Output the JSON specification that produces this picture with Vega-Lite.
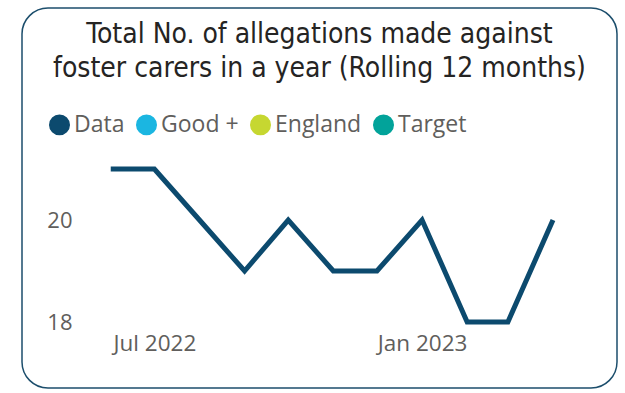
{
  "$schema": "https://vega.github.io/schema/vega-lite/v6.json",
  "autosize": "none",
  "padding": {"left": 22, "top": 8, "right": 8, "bottom": 5},
  "width": 595,
  "height": 380,
  "background": "#ffffff",
  "title": {
    "text": ["Total No. of allegations made against", "foster carers in a year (Rolling 12 months)"],
    "font": "DejaVu Sans Condensed",
    "fontSize": 28,
    "fontWeight": "normal",
    "color": "#252423",
    "anchor": "middle",
    "frame": "group",
    "lineHeight": 34,
    "baseline": "alphabetic",
    "offset": -97
  },
  "data": {
    "values": [
      {"month": "2022-06-01", "value": 21, "series": "Data"},
      {"month": "2022-07-01", "value": 21, "series": "Data"},
      {"month": "2022-08-01", "value": 20, "series": "Data"},
      {"month": "2022-09-01", "value": 19, "series": "Data"},
      {"month": "2022-10-01", "value": 20, "series": "Data"},
      {"month": "2022-11-01", "value": 19, "series": "Data"},
      {"month": "2022-12-01", "value": 19, "series": "Data"},
      {"month": "2023-01-01", "value": 20, "series": "Data"},
      {"month": "2023-02-01", "value": 18, "series": "Data"},
      {"month": "2023-03-01", "value": 18, "series": "Data"},
      {"month": "2023-04-01", "value": 20, "series": "Data"}
    ]
  },
  "mark": {"type": "line", "strokeWidth": 5, "strokeJoin": "miter"},
  "encoding": {
    "x": {
      "field": "month",
      "type": "temporal",
      "scale": {
        "type": "utc",
        "domain": [
          {"year": 2022, "month": 4, "date": 1, "utc": true},
          {"year": 2023, "month": 5, "date": 15, "utc": true}
        ]
      },
      "axis": {
        "title": null,
        "values": [
          {"year": 2022, "month": 7, "date": 1, "utc": true},
          {"year": 2023, "month": 1, "date": 1, "utc": true}
        ],
        "format": "%b %Y",
        "grid": false,
        "domain": false,
        "ticks": false,
        "labelPadding": -56,
        "labelFont": "Open Sans",
        "labelFontSize": 22.5,
        "labelColor": "#605e5c"
      }
    },
    "y": {
      "field": "value",
      "type": "quantitative",
      "scale": {"domain": [16.706, 24.157], "nice": false, "zero": false},
      "axis": {
        "title": null,
        "values": [18, 20],
        "grid": false,
        "domain": false,
        "ticks": false,
        "labelPadding": -50,
        "labelFont": "Open Sans",
        "labelFontSize": 22,
        "labelColor": "#605e5c"
      }
    },
    "color": {
      "field": "series",
      "type": "nominal",
      "scale": {
        "domain": ["Data", "Good +", "England", "Target"],
        "range": ["#0c4a6e", "#1bb6e1", "#c6d731", "#02a39a"]
      },
      "legend": {
        "title": null,
        "orient": "none",
        "direction": "horizontal",
        "legendX": 26,
        "legendY": 105,
        "padding": 0,
        "labelFont": "Open Sans",
        "labelFontSize": 23,
        "labelColor": "#605e5c",
        "labelOffset": 3,
        "columnPadding": 8,
        "symbolType": "circle",
        "symbolSize": 380,
        "encode": {
          "symbols": {
            "update": {
              "fill": {"scale": "color", "field": "value"},
              "stroke": {"value": "transparent"},
              "shape": {"value": "circle"},
              "size": {"value": 380},
              "opacity": {"value": 1}
            }
          }
        }
      }
    }
  },
  "config": {
    "view": {"stroke": "#1c4e6c", "strokeWidth": 1.5, "cornerRadius": 26, "fill": "#ffffff"}
  }
}
